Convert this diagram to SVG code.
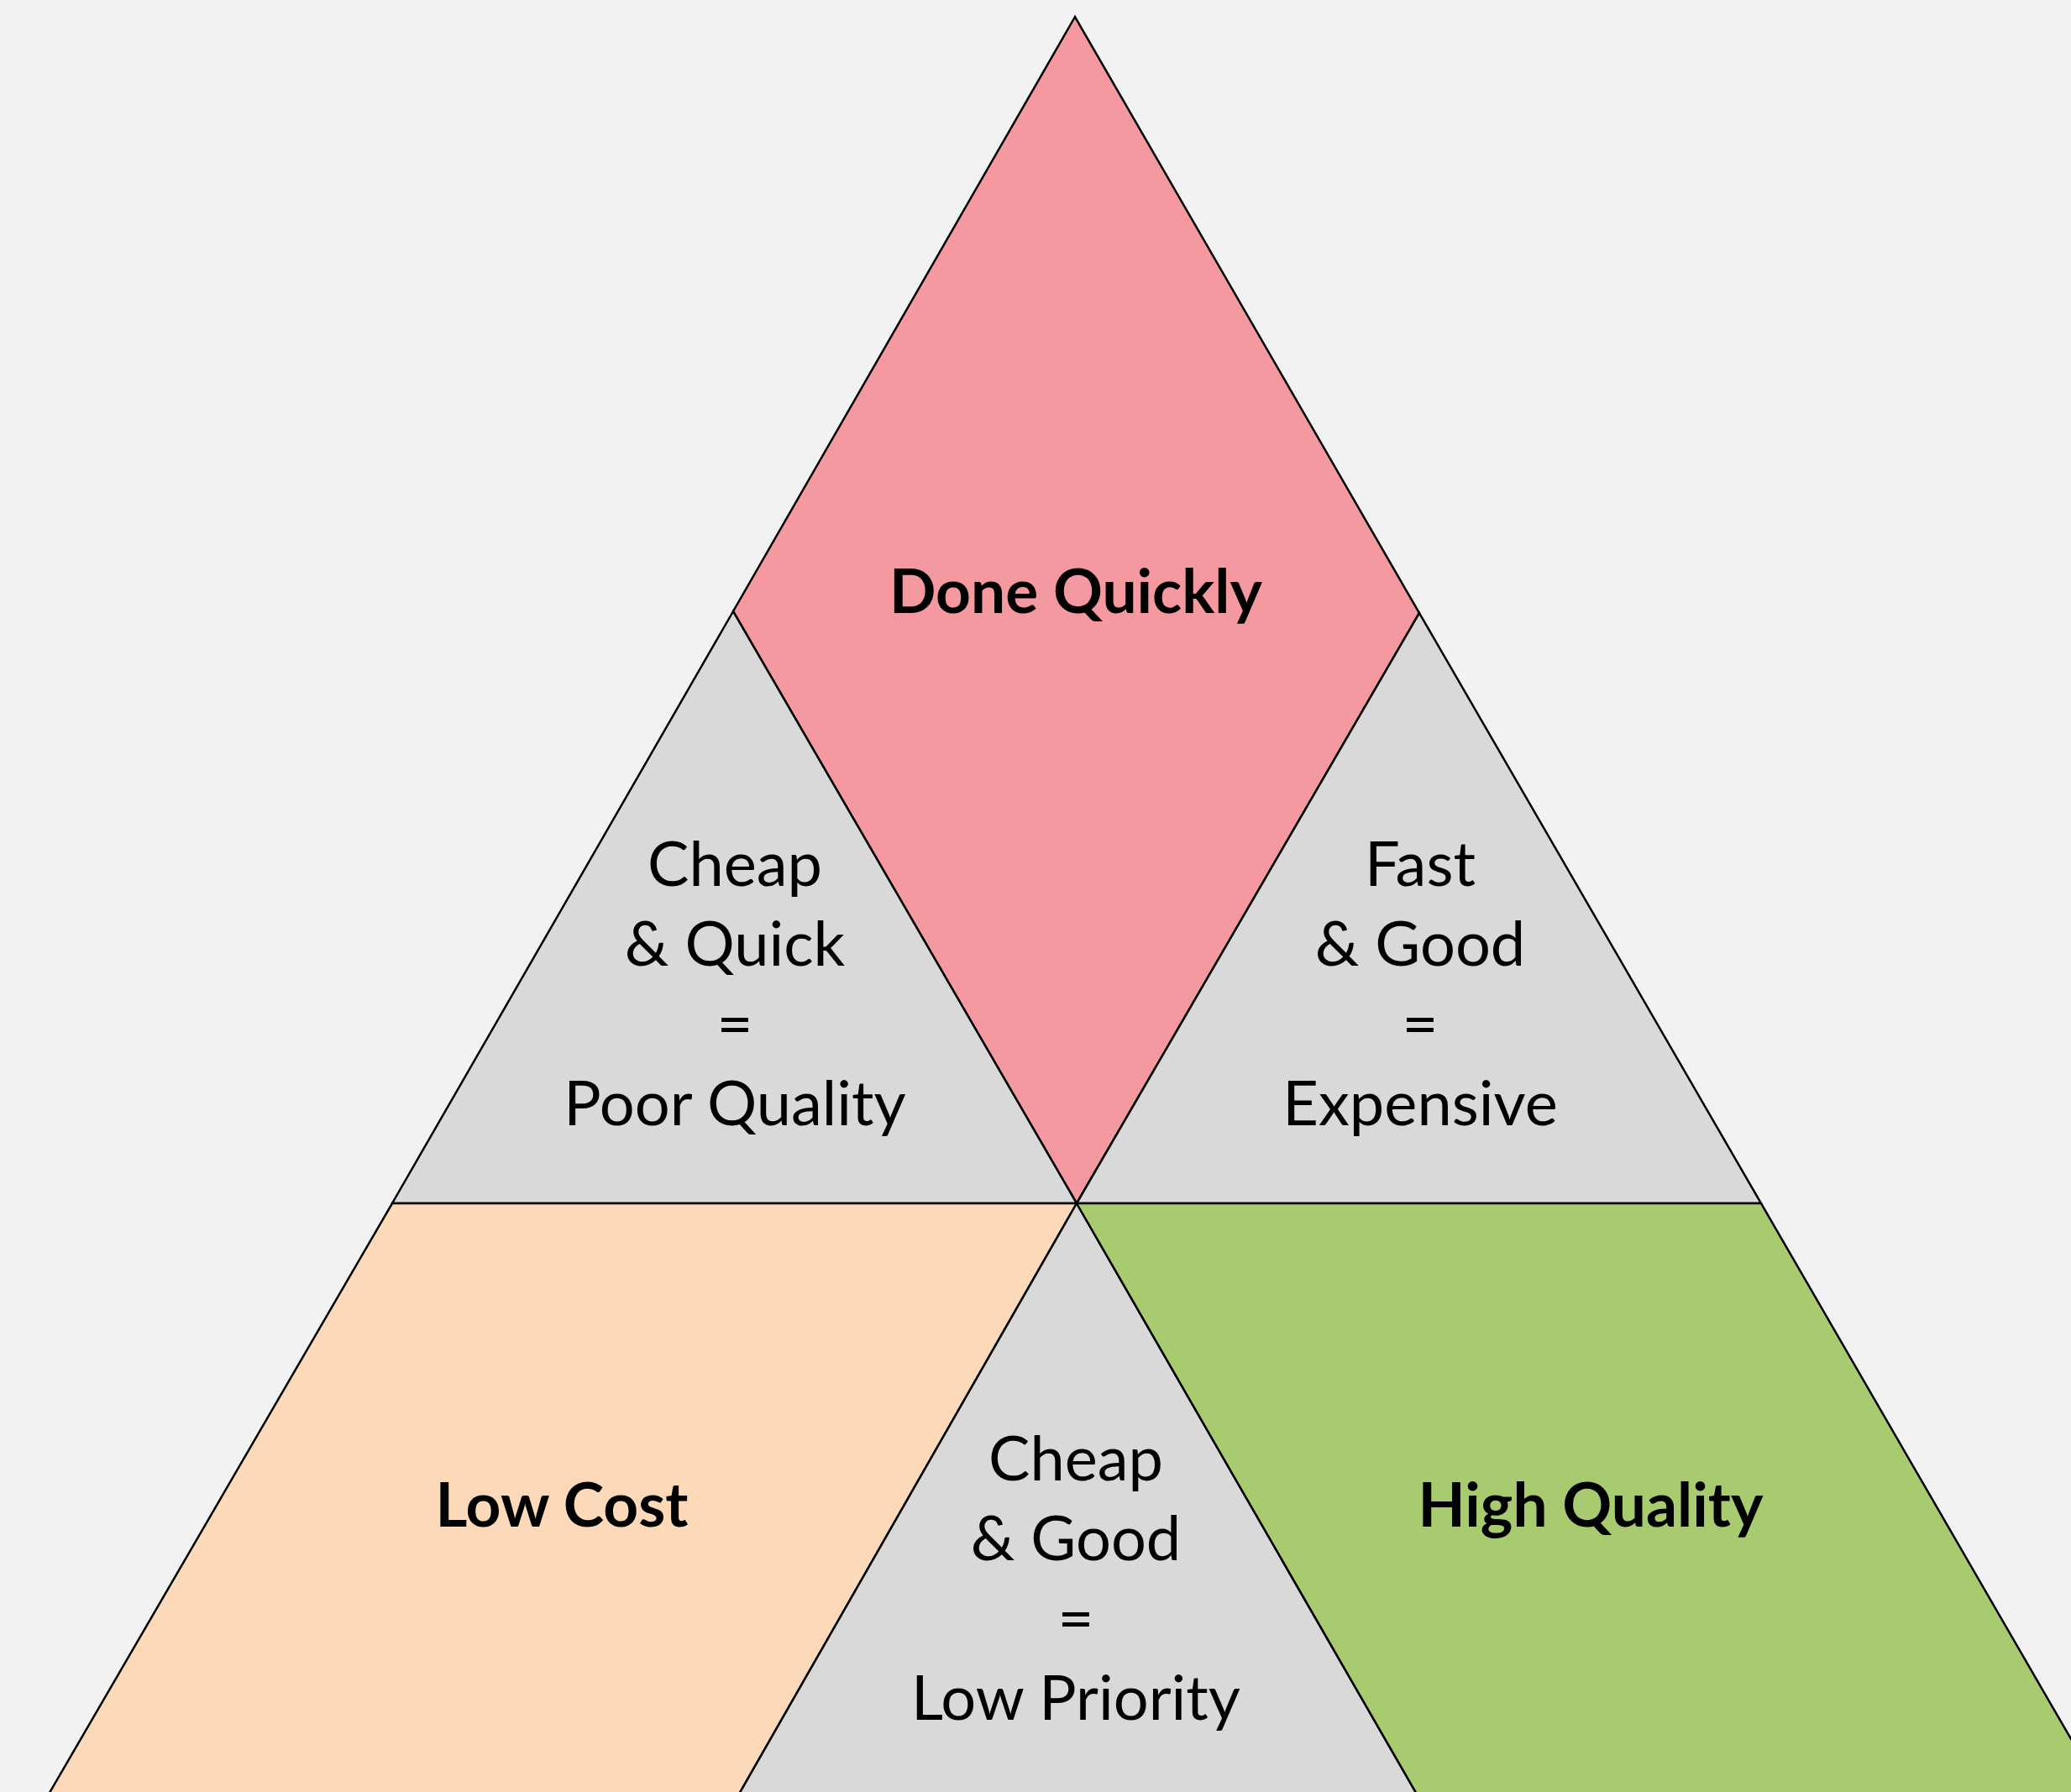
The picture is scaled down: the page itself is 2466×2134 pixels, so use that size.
<svg xmlns="http://www.w3.org/2000/svg" width="2466" height="2134" viewBox="0 0 2466 2134">
<style>
.edge{stroke:#000;stroke-width:2.5;stroke-linejoin:miter}
.pink{fill:#F4999F}
.gray{fill:#D9D9D9}
.orange{fill:#FCD9B9}
.green{fill:#A9CB6F}
text{font-family:"Lato","Open Sans","Liberation Sans",sans-serif;fill:#000;text-anchor:middle}
.b{font-weight:700;font-size:73px}
.r{font-weight:400;font-size:74px}
</style>
<rect width="2466" height="2134" fill="#F2F2F2"/>
<g id="done-quickly">
<polygon class="pink edge" points="1280,20 873,728 1282,1433 1690,730"/>
<text class="b" x="1281" y="730">Done Quickly</text>
</g>
<g id="cheap-quick">
<polygon class="gray edge" points="873,728 467,1433 1282,1433"/>
<text class="r" x="875" y="1055">Cheap</text>
<text class="r" x="875" y="1150">&amp; Quick</text>
<text class="r" x="875" y="1245">=</text>
<text class="r" x="875" y="1340">Poor Quality</text>
</g>
<g id="fast-good">
<polygon class="gray edge" points="1690,730 1282,1433 2097,1433"/>
<text class="r" x="1691" y="1055">Fast</text>
<text class="r" x="1691" y="1150">&amp; Good</text>
<text class="r" x="1691" y="1245">=</text>
<text class="r" x="1691" y="1340">Expensive</text>
</g>
<g id="low-cost">
<polygon class="orange edge" points="467,1433 1282,1433 878,2140 56,2140"/>
<text class="b" x="669" y="1818">Low Cost</text>
</g>
<g id="cheap-good">
<polygon class="gray edge" points="1282,1433 878,2140 1689,2140"/>
<text class="r" x="1281" y="1763">Cheap</text>
<text class="r" x="1281" y="1858">&amp; Good</text>
<text class="r" x="1281" y="1953">=</text>
<text class="r" x="1281" y="2048">Low Priority</text>
</g>
<g id="high-quality">
<polygon class="green edge" points="1282,1433 2097,1433 2506,2140 1689,2140"/>
<text class="b" x="1894" y="1818">High Quality</text>
</g>
<g id="connectors"></g>
</svg>
